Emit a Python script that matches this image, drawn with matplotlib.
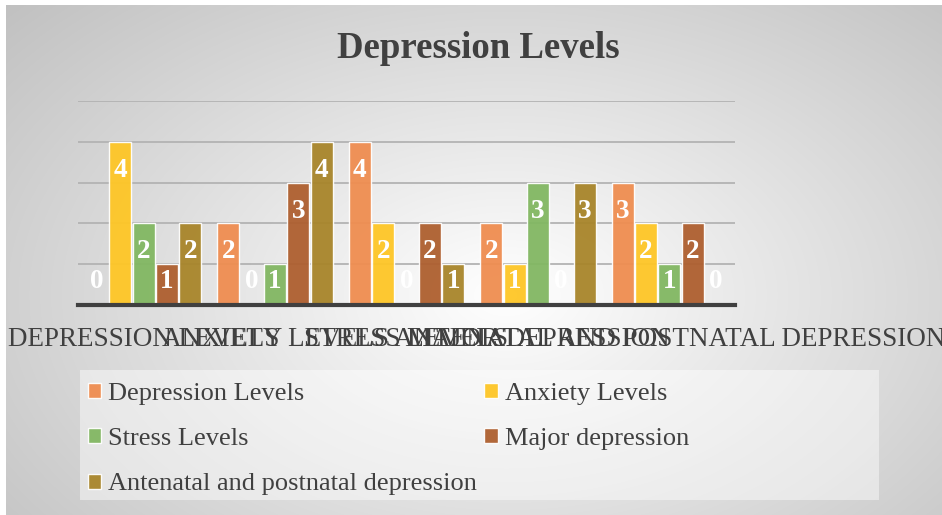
import numpy as np
import matplotlib
matplotlib.use("Agg")
import matplotlib.pyplot as plt
from matplotlib.patches import Rectangle

categories = ["DEPRESSION LEVELS", "ANXIETY LEVELS", "STRESS LEVELS",
              "MAJOR DEPRESSION", "ANTENATAL AND POSTNATAL DEPRESSION"]
series_names = ["Depression Levels", "Anxiety Levels", "Stress Levels",
                "Major depression", "Antenatal and postnatal depression"]
depression = [0, 2, 4, 2, 3]
anxiety = [4, 0, 2, 1, 2]
stress = [2, 1, 0, 3, 1]
major = [1, 3, 2, 0, 2]
antenatal = [2, 4, 1, 3, 0]
series_values = [depression, anxiety, stress, major, antenatal]
colors = ["#EF8D50", "#FEC626", "#82B762", "#AE5F2F", "#A8852A"]

W, H = 942, 515
fig = plt.figure(figsize=(W / 100, H / 100), dpi=100)
fig.patch.set_facecolor("white")
SERIF = "Liberation Serif"
TXT = "#404040"

# gradient background
bg = fig.add_axes([6 / W, 0, (W - 6) / W, (H - 5) / H], zorder=-10)
yy, xx = np.mgrid[0:510, 0:936]
cx, cy = 500, 290
r = np.sqrt(((xx - cx) / 470.0) ** 2 + ((yy - cy) / 300.0) ** 2)
val = np.clip(1.0 - 0.17 * r, 0, 1)
img = np.dstack([val, val, val])
bg.imshow(img, aspect="auto", interpolation="bilinear")
bg.set_axis_off()

# main axes
x0, x1 = 78, 735
y0, y1 = 305, 101
ax = fig.add_axes([x0 / W, (H - y0) / H, (x1 - x0) / W, (y0 - y1) / H])
ax.set_facecolor("none")

x = np.arange(len(categories))
pitch = 0.1775
bw = 0.1675
for i, (vals, c, name) in enumerate(zip(series_values, colors, series_names)):
    pos = x + (i - 2) * pitch
    ax.bar(pos, vals, width=bw, color=c, alpha=0.95, edgecolor=(1, 1, 1, 0.45),
           linewidth=1.0, zorder=3, label=name)
    for p, v in zip(pos, vals):
        ty = max(v - 0.7, 0.58)
        ax.text(p, ty, str(v), ha="center", va="center", color="white",
                fontsize=19.5, fontweight="bold", family=SERIF, zorder=5)

ax.set_xlim(-0.5, len(categories) - 0.5)
ax.set_ylim(0, 5)
ax.set_yticks(range(0, 6))
ax.yaxis.grid(True, color="#b3b3b3", linewidth=1.3, zorder=0)
ax.set_axisbelow(True)
ax.tick_params(axis="y", length=0, labelleft=False)
ax.tick_params(axis="x", length=0, labelbottom=False)
for s in ["top", "left", "right"]:
    ax.spines[s].set_visible(False)
ax.spines["bottom"].set_color(TXT)
ax.spines["bottom"].set_linewidth(3)
ax.spines["bottom"].set_zorder(6)

# category labels (overlapping, as in original)
for xi, lab in zip(x, categories):
    ax.text(xi, -0.85, lab, ha="center", va="center", fontsize=19.5,
            family=SERIF, color=TXT, clip_on=False)

# title
fig.text(478 / W, 1 - 49 / H, "Depression Levels", ha="center", va="center",
         fontsize=26.5, fontweight="bold", family=SERIF, color=TXT)

# legend background box
fig.patches.append(Rectangle((80 / W, 1 - 500 / H), (879 - 80) / W, 130 / H,
                             transform=fig.transFigure, facecolor="white",
                             alpha=0.45, edgecolor="none", zorder=-5))

handles, labels = ax.get_legend_handles_labels()
order = [0, 2, 4, 1, 3]
leg = fig.legend([handles[k] for k in order], [labels[k] for k in order],
                 loc="upper left", bbox_to_anchor=(88 / W, 1 - 383 / H),
                 ncol=2, frameon=False, borderpad=0, borderaxespad=0,
                 handlelength=0.5, handleheight=0.5, handletextpad=0.27,
                 columnspacing=0.27, labelspacing=0.88,
                 prop={"family": SERIF, "size": 19})
for t in leg.get_texts():
    t.set_color(TXT)

fig.savefig("out.png", dpi=100)
